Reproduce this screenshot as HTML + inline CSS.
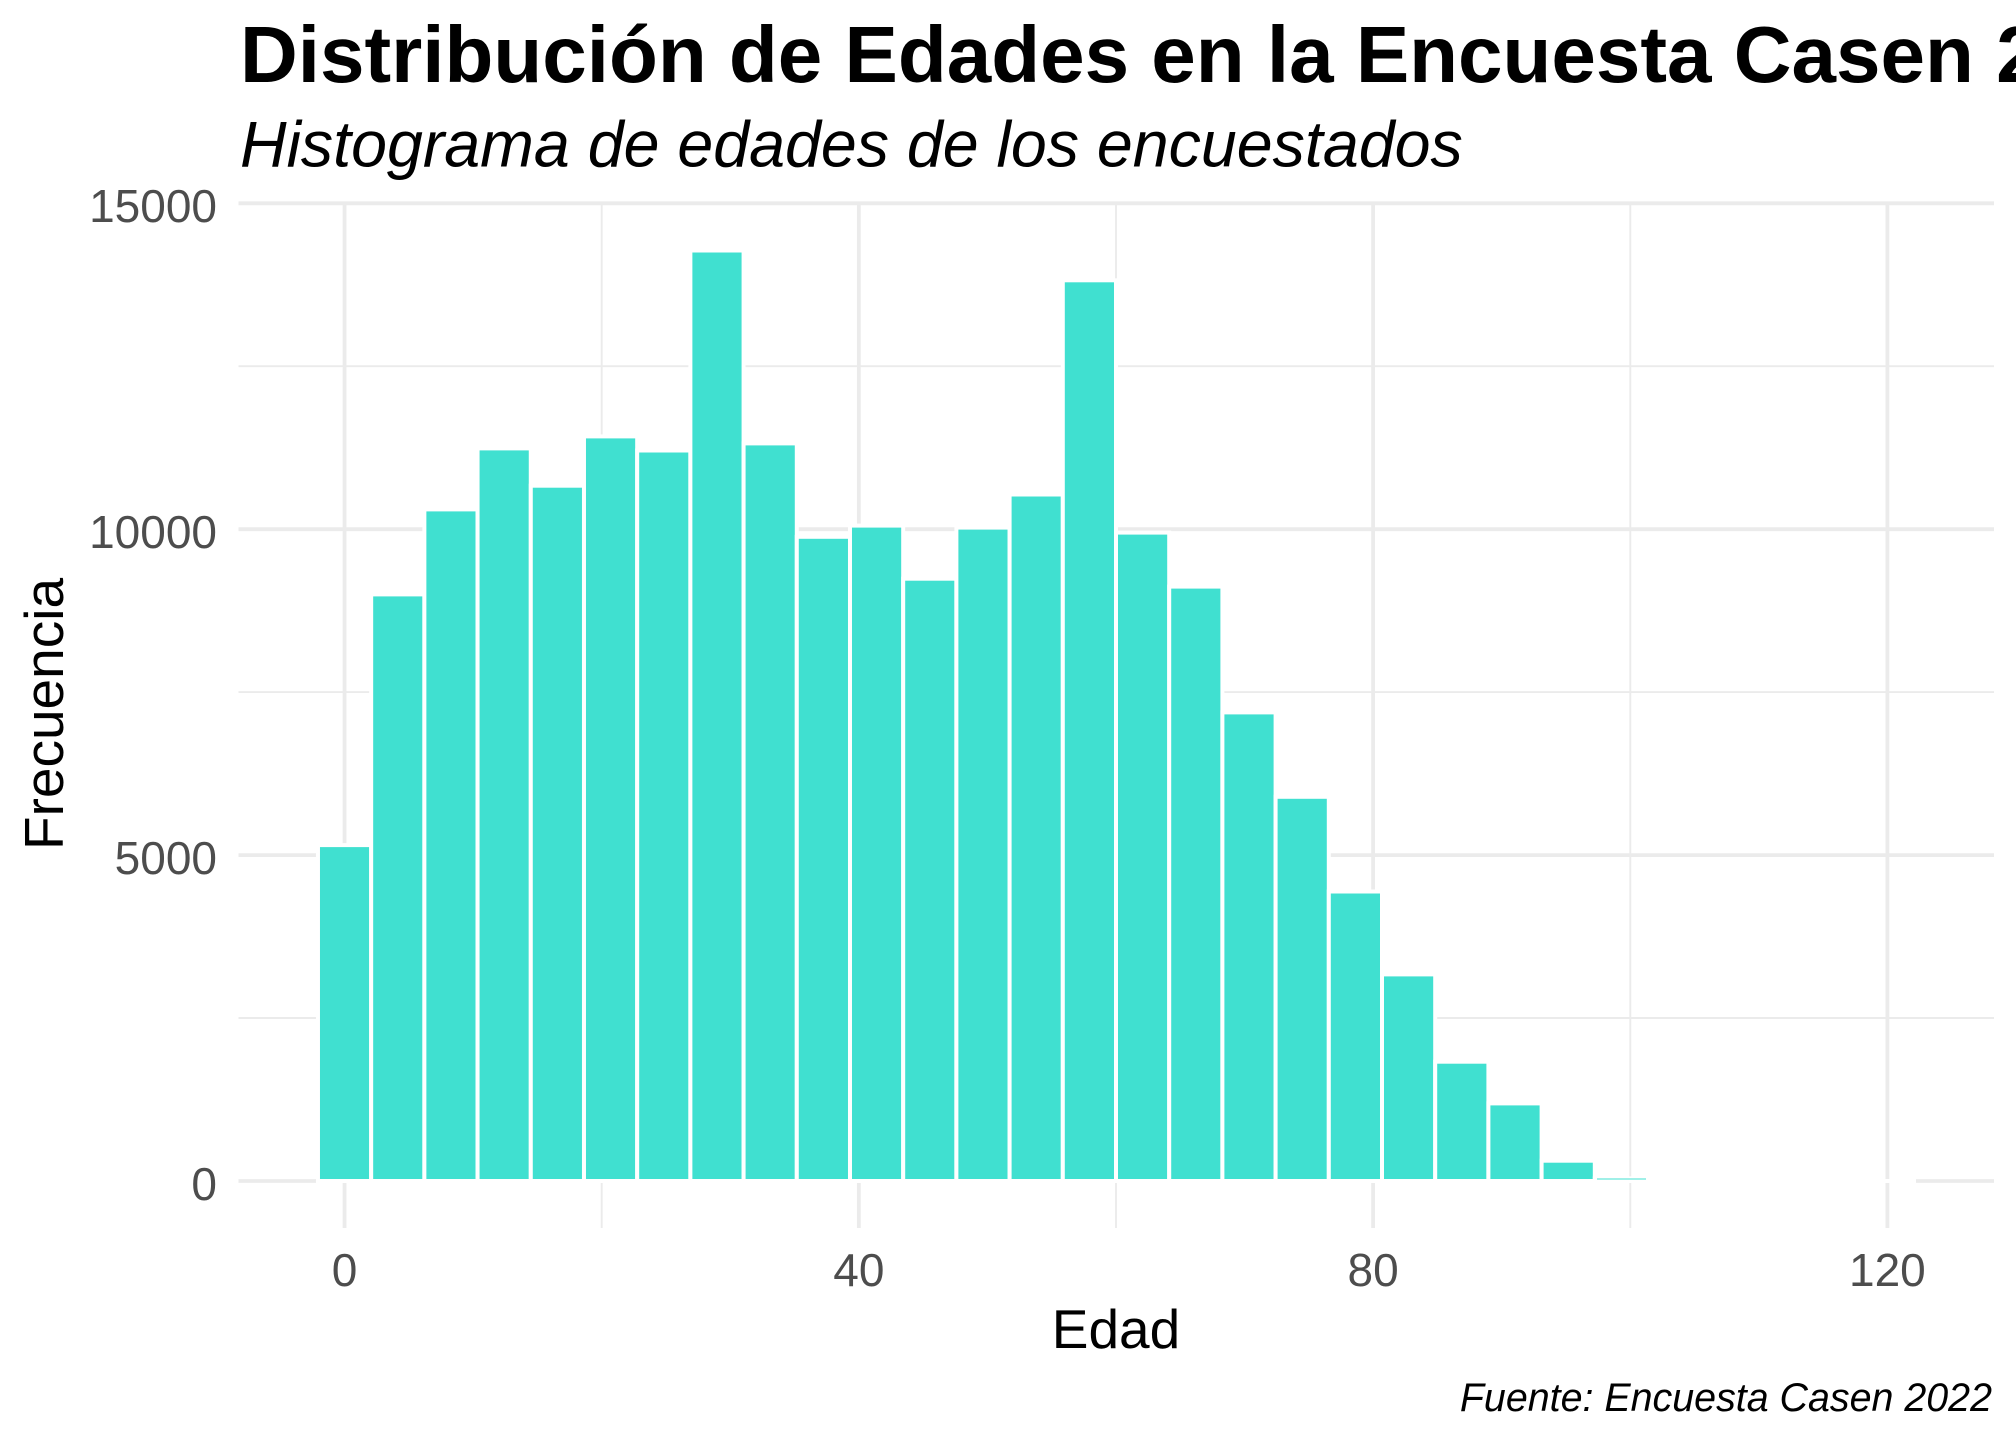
<!DOCTYPE html>
<html>
<head>
<meta charset="utf-8">
<style>
html,body{margin:0;padding:0;background:#ffffff;overflow:hidden;}
svg{display:block;}
text{font-family:"Liberation Sans",Arial,sans-serif;}
</style>
</head>
<body>
<svg width="2016" height="1440" viewBox="0 0 2016 1440" xmlns="http://www.w3.org/2000/svg">
<rect x="0" y="0" width="2016" height="1440" fill="#ffffff"/>
<!-- minor gridlines -->
<g stroke="#EBEBEB" stroke-width="1.9" fill="none">
<line x1="238.5" y1="366.2" x2="1994" y2="366.2"/>
<line x1="238.5" y1="692.1" x2="1994" y2="692.1"/>
<line x1="238.5" y1="1018" x2="1994" y2="1018"/>
<line x1="601.7" y1="202" x2="601.7" y2="1228"/>
<line x1="1116" y1="202" x2="1116" y2="1228"/>
<line x1="1630.3" y1="202" x2="1630.3" y2="1228"/>
</g>
<!-- major gridlines -->
<g stroke="#EBEBEB" stroke-width="3.8" fill="none">
<line x1="238.5" y1="203.3" x2="1994" y2="203.3"/>
<line x1="238.5" y1="529.2" x2="1994" y2="529.2"/>
<line x1="238.5" y1="855.1" x2="1994" y2="855.1"/>
<line x1="238.5" y1="1181" x2="1994" y2="1181"/>
<line x1="344.57" y1="202" x2="344.57" y2="1228"/>
<line x1="858.86" y1="202" x2="858.86" y2="1228"/>
<line x1="1373.1" y1="202" x2="1373.1" y2="1228"/>
<line x1="1887.4" y1="202" x2="1887.4" y2="1228"/>
</g>
<!-- bars -->
<g fill="#40E0D0" stroke="#ffffff" stroke-width="4">
<rect x="317.97" y="845.1" width="53.2" height="335.9"/>
<rect x="371.17" y="594.4" width="53.2" height="586.6"/>
<rect x="424.37" y="509.4" width="53.2" height="671.6"/>
<rect x="477.57" y="448.4" width="53.2" height="732.6"/>
<rect x="530.78" y="485.7" width="53.2" height="695.3"/>
<rect x="583.98" y="436.4" width="53.2" height="744.6"/>
<rect x="637.18" y="450.5" width="53.2" height="730.5"/>
<rect x="690.38" y="250.5" width="53.2" height="930.5"/>
<rect x="743.59" y="443.4" width="53.2" height="737.6"/>
<rect x="796.79" y="536.8" width="53.2" height="644.2"/>
<rect x="849.99" y="525.6" width="53.2" height="655.4"/>
<rect x="903.19" y="578.7" width="53.2" height="602.3"/>
<rect x="956.39" y="527.6" width="53.2" height="653.4"/>
<rect x="1009.6" y="494.5" width="53.2" height="686.5"/>
<rect x="1062.8" y="280.3" width="53.2" height="900.7"/>
<rect x="1116.0" y="532.6" width="53.2" height="648.4"/>
<rect x="1169.2" y="586.6" width="53.2" height="594.4"/>
<rect x="1222.4" y="712.4" width="53.2" height="468.6"/>
<rect x="1275.6" y="796.8" width="53.2" height="384.2"/>
<rect x="1328.8" y="891.5" width="53.2" height="289.5"/>
<rect x="1382.0" y="974.4" width="53.2" height="206.6"/>
<rect x="1435.2" y="1061.7" width="53.2" height="119.3"/>
<rect x="1488.4" y="1103.4" width="53.2" height="77.6"/>
<rect x="1541.6" y="1160.7" width="53.2" height="20.3"/>
<rect x="1594.8" y="1178.4" width="53.2" height="2.6"/>
</g>
<line x1="1646" y1="1181" x2="1916" y2="1181" stroke="#ffffff" stroke-width="4"/>
<line x1="1597" y1="1179" x2="1646" y2="1179" stroke="#40E0D0" stroke-width="1"/>
<!-- titles -->
<text x="240" y="82" font-size="80" font-weight="bold" fill="#000000">Distribución de Edades en la Encuesta Casen 2022</text>
<text x="240" y="166.5" font-size="64.5" font-style="italic" fill="#000000">Histograma de edades de los encuestados</text>
<!-- y axis labels -->
<g font-size="46" fill="#4D4D4D" text-anchor="end">
<text x="217" y="222">15000</text>
<text x="217" y="548">10000</text>
<text x="217" y="874">5000</text>
<text x="217" y="1200">0</text>
</g>
<!-- x axis labels -->
<g font-size="46" fill="#4D4D4D" text-anchor="middle">
<text x="344.57" y="1286">0</text>
<text x="858.86" y="1286">40</text>
<text x="1373.1" y="1286">80</text>
<text x="1887.4" y="1286">120</text>
</g>
<!-- axis titles -->
<text x="1116" y="1348" font-size="55" fill="#000000" text-anchor="middle">Edad</text>
<text transform="translate(63,714) rotate(-90)" font-size="55" fill="#000000" text-anchor="middle">Frecuencia</text>
<!-- caption -->
<text x="1992" y="1411" font-size="39.4" font-style="italic" fill="#000000" text-anchor="end">Fuente: Encuesta Casen 2022</text>
</svg>
</body>
</html>
